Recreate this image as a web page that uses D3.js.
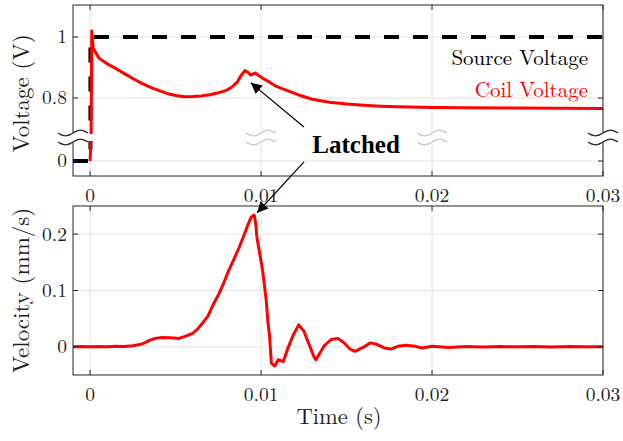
<!DOCTYPE html>
<html>
<head>
<meta charset="utf-8">
<script src="https://cdn.jsdelivr.net/npm/d3@7"></script>
<style>
  body { margin: 0; background: #fff; }
  svg { display: block; }
</style>
</head>
<body>
<div id="vis"></div>
<script>
// ---- data ----
var xTicks = [0, 0.01, 0.02, 0.03];
var vTicks = [0, 0.8, 1];
var velTicks = [0, 0.1, 0.2];

// source voltage step
var srcT = [-0.001, 0.00002, 0.00002, 0.03];
var srcV = [0, 0, 1, 1];

// coil voltage
var coilT = [0, 0.00006, 0.0001, 0.00018, 0.00053, 0.001, 0.0015, 0.002, 0.0025, 0.003,
  0.0035, 0.004, 0.0045, 0.005, 0.0055, 0.006, 0.0065, 0.007, 0.0075, 0.008,
  0.0083, 0.0086, 0.00885, 0.00905, 0.0092, 0.0094, 0.00965, 0.0098, 0.0101, 0.0105,
  0.0109, 0.0115, 0.0122, 0.013, 0.014, 0.015, 0.016, 0.017, 0.018, 0.02,
  0.022, 0.025, 0.03];
var coilV = [0, 0.6, 1.02, 0.963, 0.93, 0.912, 0.897, 0.88, 0.864, 0.849,
  0.836, 0.825, 0.815, 0.808, 0.804, 0.805, 0.807, 0.811, 0.817, 0.826,
  0.836, 0.852, 0.875, 0.89, 0.886, 0.875, 0.882, 0.876, 0.865, 0.852,
  0.838, 0.825, 0.81, 0.796, 0.786, 0.78, 0.776, 0.773, 0.771, 0.769,
  0.768, 0.767, 0.766];

// armature velocity
var velT = [-0.001, -0.0005, 0, 0.0005, 0.001, 0.0015, 0.002, 0.0025, 0.0029, 0.0032,
  0.0035, 0.0038, 0.0042, 0.0047, 0.0052, 0.0056, 0.006, 0.0063, 0.0066, 0.0069,
  0.0072, 0.0075, 0.0078, 0.0081, 0.0084, 0.0087, 0.009, 0.0092, 0.0094, 0.0095,
  0.0096, 0.0097, 0.00975, 0.0101, 0.0103, 0.0104, 0.0105, 0.0106, 0.0108, 0.011,
  0.0113, 0.0116, 0.0119, 0.0122, 0.0125, 0.0128, 0.0131, 0.0132, 0.0134, 0.0137,
  0.0141, 0.0145, 0.0149, 0.0152, 0.0155, 0.0159, 0.0164, 0.0168, 0.0172, 0.0176,
  0.018, 0.0185, 0.019, 0.0194, 0.02, 0.021, 0.022, 0.023, 0.024, 0.025,
  0.026, 0.027, 0.028, 0.029, 0.03];
var velV = [0, 0.0005, 0, 0.0005, 0, 0.001, 0.0005, 0.002, 0.004, 0.007,
  0.012, 0.015, 0.0165, 0.016, 0.015, 0.019, 0.024, 0.032, 0.043, 0.055,
  0.075, 0.092, 0.112, 0.135, 0.155, 0.175, 0.198, 0.214, 0.229, 0.232,
  0.234, 0.215, 0.196, 0.134, 0.083, 0.045, 0.018, -0.029, -0.034, -0.023,
  -0.026, 0, 0.022, 0.039, 0.028, 0.005, -0.018, -0.023, -0.013, 0.002,
  0.013, 0.015, 0.006, -0.004, -0.008, -0.002, 0.007, 0.004, -0.002, -0.004,
  0.001, 0.003, 0.001, -0.002, 0.001, -0.001, 0.0005, -0.0005, 0.0005, 0,
  0.0005, -0.0005, 0.0005, 0, 0];

// ---- layout ----
var width = 623, height = 441;
var left = 73, right = 603;
var top1 = 5, bot1 = 176;
var top2 = 206, bot2 = 375;
var breakLo = 0.0656, breakHi = 0.682;   // broken voltage axis
var serif = "'Latin Modern Roman', 'Liberation Serif', serif";

var svg = d3.select('#vis').append('svg')
  .attr('width', width).attr('height', height);

var x = d3.scaleLinear().domain([-0.001, 0.03]).range([left, right]);
// polylinear scale to squeeze out the 0.07..0.68 gap
var y1 = d3.scaleLinear()
  .domain([-0.05, breakLo, breakHi, 1.105])
  .range([176.3, 141, 134, top1]);
var y2 = d3.scaleLinear().domain([-0.05, 0.25]).range([bot2, top2]);

var gridCol = '#e3e3e3', axCol = '#262626';

function addText(sel, size, fam) {
  return sel.append('text')
    .attr('style', 'font-family:' + (fam || serif) + ';font-size:' + size + 'px')
    .attr('fill', '#1e1e1e');
}

function drawFrame(yScale, yt, yTop, yBot) {
  var g = svg.append('g');
  // grid
  g.selectAll('.gx').data(xTicks).enter().append('line')
    .attr('x1', d => x(d)).attr('x2', d => x(d))
    .attr('y1', yTop).attr('y2', yBot)
    .attr('stroke', gridCol).attr('stroke-width', 1);
  g.selectAll('.gy').data(yt).enter().append('line')
    .attr('x1', left).attr('x2', right)
    .attr('y1', d => yScale(d)).attr('y2', d => yScale(d))
    .attr('stroke', gridCol).attr('stroke-width', 1);
  return g;
}

function drawAxes(yScale, yt, yTop, yBot) {
  var g = svg.append('g');
  g.append('rect')
    .attr('x', left).attr('y', yTop)
    .attr('width', right - left).attr('height', yBot - yTop)
    .attr('fill', 'none').attr('stroke', axCol).attr('stroke-width', 1);
  // inward ticks on all four sides
  xTicks.forEach(function (d) {
    g.append('line').attr('x1', x(d)).attr('x2', x(d)).attr('y1', yBot).attr('y2', yBot - 5)
      .attr('stroke', axCol);
    g.append('line').attr('x1', x(d)).attr('x2', x(d)).attr('y1', yTop).attr('y2', yTop + 5)
      .attr('stroke', axCol);
  });
  yt.forEach(function (d) {
    g.append('line').attr('x1', left).attr('x2', left + 5).attr('y1', yScale(d)).attr('y2', yScale(d))
      .attr('stroke', axCol);
    g.append('line').attr('x1', right).attr('x2', right - 5).attr('y1', yScale(d)).attr('y2', yScale(d))
      .attr('stroke', axCol);
  });
  xTicks.forEach(function (d) {
    addText(g, 19.5).attr('x', x(d)).attr('y', yBot + 26)
      .attr('text-anchor', 'middle')
      .text(d === 0 ? '0' : d3.format('.2f')(d));
  });
  yt.forEach(function (d) {
    addText(g, 19.5).attr('x', left - 6).attr('y', yScale(d)).attr('dy', '0.33em')
      .attr('text-anchor', 'end')
      .text(String(d));
  });
  return g;
}

// ---- top panel: voltage ----
drawFrame(y1, vTicks, top1, bot1);

var line1 = d3.line().x(d => x(d[0])).y(d => y1(d[1]));
svg.append('path')
  .datum(d3.zip(srcT, srcV))
  .attr('d', line1)
  .attr('fill', 'none').attr('stroke', '#000')
  .attr('stroke-width', 4).attr('stroke-dasharray', '15,14');
svg.append('path')
  .datum(d3.zip(coilT, coilV))
  .attr('d', line1)
  .attr('fill', 'none').attr('stroke', '#ff0000')
  .attr('stroke-width', 3).attr('stroke-linejoin', 'round');

drawAxes(y1, vTicks, top1, bot1);

// axis break: white band + double squiggles
var yA = y1(breakHi) - 1, yB = y1(breakLo) + 1;
svg.append('rect')
  .attr('x', left + 1).attr('y', yA + 1)
  .attr('width', right - left - 2).attr('height', yB - yA - 2)
  .attr('fill', '#fff');
var wave = d3.line().curve(d3.curveBasis);
function squiggle(cx, yc, col) {
  var pts = d3.range(0, 13).map(function (i) {
    return [cx - 15 + i * 2.5, yc + 3 * Math.sin(i / 12 * 2 * Math.PI)];
  });
  svg.append('path').attr('d', wave(pts))
    .attr('fill', 'none').attr('stroke', col).attr('stroke-width', 1.3);
}
[[x(-0.001), axCol], [x(0.01), '#c8c8c8'], [x(0.02), '#c8c8c8'], [x(0.03), axCol]]
  .forEach(function (p) {
    svg.append('rect').attr('x', p[0] - 15).attr('y', yA).attr('width', 30)
      .attr('height', yB - yA).attr('fill', '#fff');
    squiggle(p[0], yA, p[1]);
    squiggle(p[0], yB, p[1]);
  });

// legend
addText(svg, 21).attr('x', 588).attr('y', 65).attr('text-anchor', 'end')
  .attr('fill', '#000').text('Source Voltage');
addText(svg, 21).attr('x', 588).attr('y', 97).attr('text-anchor', 'end')
  .attr('fill', '#ff0000').text('Coil Voltage');

// ---- bottom panel: velocity ----
drawFrame(y2, velTicks, top2, bot2);
svg.append('path')
  .datum(d3.zip(velT, velV))
  .attr('d', d3.line().x(d => x(d[0])).y(d => y2(d[1])))
  .attr('fill', 'none').attr('stroke', '#ff0000')
  .attr('stroke-width', 3).attr('stroke-linejoin', 'round');
drawAxes(y2, velTicks, top2, bot2);

// axis labels
addText(svg, 23)
  .attr('transform', 'translate(29,' + ((top1 + bot1) / 2 + 3) + ') rotate(-90)')
  .attr('text-anchor', 'middle').text('Voltage (V)');
addText(svg, 23)
  .attr('transform', 'translate(29,' + ((top2 + bot2) / 2) + ') rotate(-90)')
  .attr('text-anchor', 'middle').text('Velocity (mm/s)');
addText(svg, 22.5)
  .attr('x', 339).attr('y', 424).attr('text-anchor', 'middle')
  .text('Time (s)');

// ---- "Latched" annotation ----
svg.append('defs').append('marker')
  .attr('id', 'ah').attr('viewBox', '0 0 10 10')
  .attr('refX', 10).attr('refY', 5)
  .attr('markerWidth', 11).attr('markerHeight', 11)
  .attr('markerUnits', 'userSpaceOnUse')
  .attr('orient', 'auto')
  .append('path').attr('d', 'M0,0 L10,5 L0,10 Z').attr('fill', '#000');

var tail = 0.01251;
svg.append('line')
  .attr('x1', x(tail)).attr('y1', y1(0.705))
  .attr('x2', x(0.0094)).attr('y2', y1(0.85))
  .attr('stroke', '#000').attr('stroke-width', 1.2).attr('marker-end', 'url(#ah)');
svg.append('line')
  .attr('x1', x(tail)).attr('y1', y1(-0.003))
  .attr('x2', x(0.00977)).attr('y2', y2(0.238))
  .attr('stroke', '#000').attr('stroke-width', 1.2).attr('marker-end', 'url(#ah)');
addText(svg, 25, "'Liberation Serif', serif")
  .attr('x', x(0.013)).attr('y', 153)
  .attr('font-weight', 'bold').style('font-weight', 'bold').attr('fill', '#000')
  .text('Latched');
</script>
</body>
</html>
